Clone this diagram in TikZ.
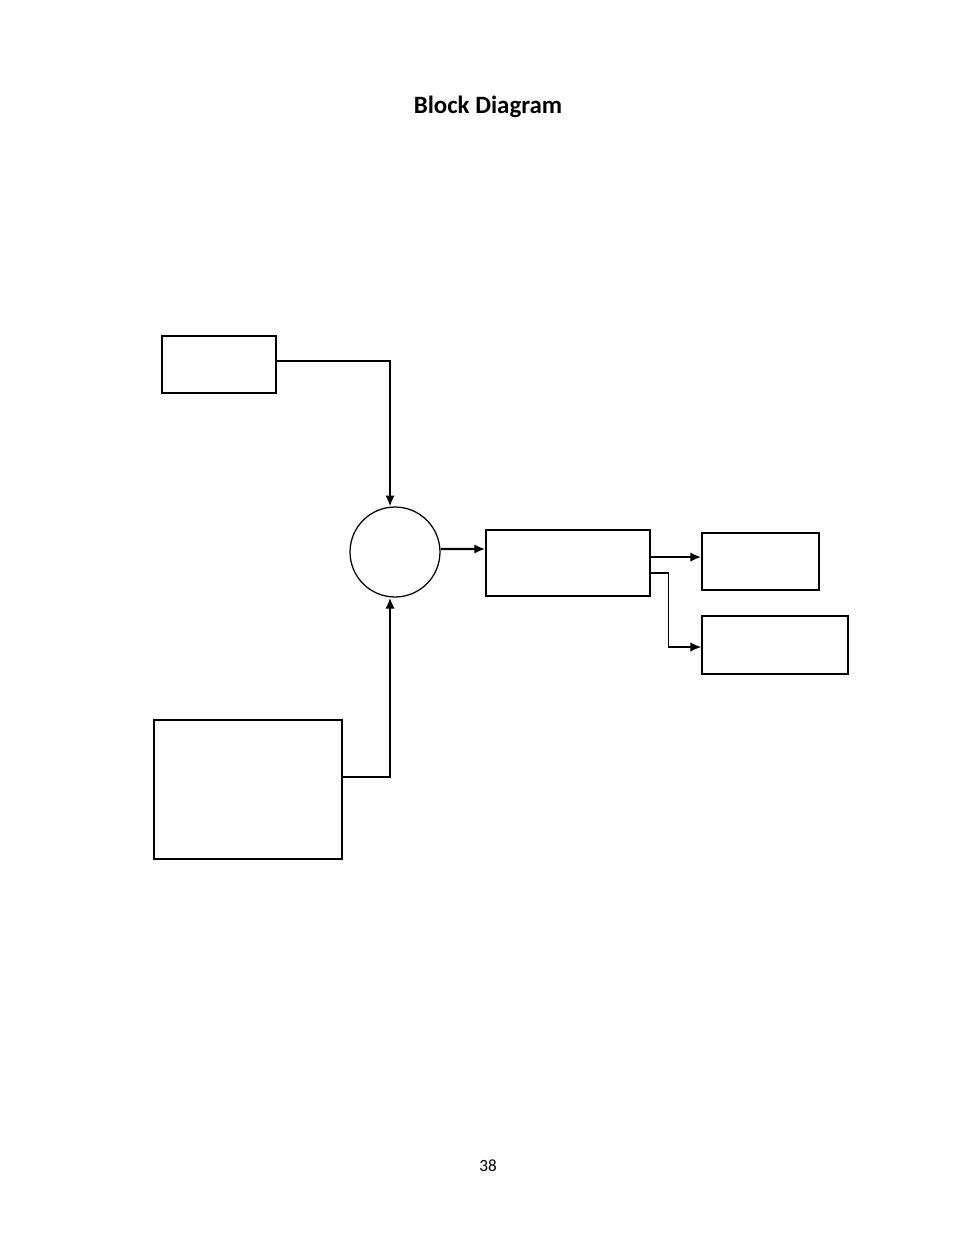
\documentclass[tikz,border=0pt]{standalone}
\usepackage{fontspec}
\setmainfont{Carlito}
\usepackage{tikz}
\usetikzlibrary{arrows.meta, shapes, calc}
\tikzset{>={Latex[length=7pt,width=6pt]}}
\tikzset{
  blk/.style={draw, line width=0.9pt, inner sep=0pt},
  sumnode/.style={draw, circle, line width=0.8pt, minimum size=57.7pt, inner sep=0pt},
  link/.style={->, line width=1.5pt},
  thinlink/.style={->, line width=0.8pt}
}
\begin{document}
\begin{tikzpicture}[x=0.6415pt, y=-0.6415pt]
\useasboundingbox (0,0) rectangle (954,1235);
\node (title) at (488,107) {\fontsize{16}{18}\selectfont\bfseries Block Diagram};
\node (page) at (488,1166) {\fontsize{11}{13}\selectfont 38};
% blocks
\node[blk, minimum width=73.1pt, minimum height=36.6pt] (ref) at (219,364.5) {};
\node[blk, minimum width=120.6pt, minimum height=89.2pt] (dist) at (248,789.5) {};
\node[sumnode] (sum) at (395,552) {};
\node[blk, minimum width=105.2pt, minimum height=42.3pt] (plant) at (568,563) {};
\node[blk, minimum width=75.1pt, minimum height=36.6pt] (outa) at (760.5,561.5) {};
\node[blk, minimum width=93.7pt, minimum height=37.2pt] (outb) at (775,645) {};
% connectors
\coordinate (split) at ([yshift=3.8pt]plant.east);
\draw[link] ([yshift=2.2pt]ref.east) -| ([xshift=-3.2pt]sum.north);
\draw[link] ([yshift=8pt]dist.east) -| ([xshift=-3.2pt]sum.south);
\draw[link] ([yshift=1.9pt]sum.east) -- ([yshift=9pt]plant.west);
\draw[link] (split) -- (split -| outa.west);
\draw[thinlink] ([yshift=-6.4pt]plant.east) -- ++(18,0) |- ([yshift=-1.3pt]outb.west);
\end{tikzpicture}
\end{document}
